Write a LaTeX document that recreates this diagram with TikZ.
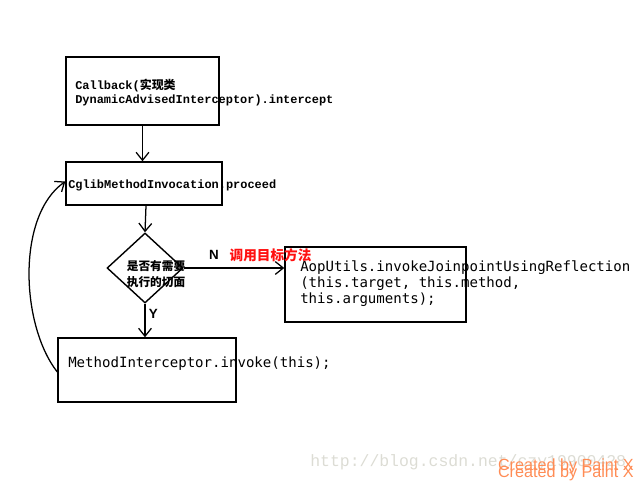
\documentclass[tikz,border=0pt]{standalone}
\usepackage{fontspec}
\setmonofont{DejaVu Sans Mono}
\newfontfamily\cjk{Noto Sans CJK SC}
\newfontfamily\heavymono{Liberation Mono}
\newfontfamily\wmsans{Liberation Sans}
\newfontfamily\wmmono{Liberation Mono}
\usetikzlibrary{arrows.meta,positioning,shapes.geometric}
\definecolor{wmgray}{HTML}{DCDCD4}
\definecolor{wmorange}{HTML}{FF8C55}
\definecolor{hintred}{HTML}{FF1010}

\begin{document}
\begin{tikzpicture}[
  box/.style={draw, line width=1pt, inner sep=0pt},
  code/.style={font=\ttfamily\fontsize{10}{11.4}\selectfont, align=left,
    anchor=west, inner sep=0pt},
  boldcode/.style={font=\heavymono\bfseries\fontsize{8.5}{10}\selectfont,
    align=left, anchor=west, inner sep=0pt},
  ask/.style={draw, diamond, line width=1pt, inner sep=0pt,
    minimum width=1.9cm, minimum height=1.75cm},
  cjktext/.style={font=\cjk\bfseries\fontsize{8.3}{11.4}\selectfont,
    align=center, inner sep=0pt},
  hint/.style={font=\cjk\bfseries\fontsize{9.7}{11}\selectfont, text=hintred,
    inner sep=0pt},
  branch/.style={font=\wmsans\bfseries\fontsize{9.5}{11}\selectfont, inner sep=0pt},
  flow/.style={-{Straight Barb[length=2mm,width=3.2mm]}, line width=0.9pt}
]
\useasboundingbox (0,0) rectangle (16,12);
% boxes
\node[box, minimum width=3.825cm, minimum height=1.7cm] (cb) at (3.5625,9.725) {};
\node[boldcode] (cbt) at (1.875,9.675)
  {Callback({\cjk\bfseries 实现类}\\DynamicAdvisedInterceptor).intercept};
\node[box, minimum width=3.9cm, minimum height=1.075cm] (cmi) at (3.6,7.4125) {};
\node[boldcode] (cmit) at (1.7,7.375) {CglibMethodInvocation.proceed};
\node[ask] (chk) at (3.625,5.3) {};
\node[cjktext] (chkt) at (3.9,5.15) {是否有需要\\执行的切面};
\node[box, minimum width=4.525cm, minimum height=1.875cm] (aop) at (9.3875,4.8875) {};
\node[code] (aopt) at (7.5,4.9)
  {AopUtils.invokeJoinpointUsingReflection\\(this.target, this.method,\\this.arguments);};
\node[box, minimum width=4.45cm, minimum height=1.6cm] (mi) at (3.675,2.75) {};
\node[code] (mit) at (1.7,2.9) {MethodInterceptor.invoke(this);};
% flows
\draw[flow] (cb.south) -- (cb.south |- cmi.north);
\draw[flow] ([xshift=0.05cm]cmi.south) -- (chk.north);
\draw[flow] (chk.east) -- node[branch, above=0.2cm, pos=0.3] (nlab) {N} (chk.east -| aop.west);
\node[hint, right=0.25cm of nlab.east] (tgt) {调用目标方法};
\draw[flow] (chk.south) -- node[branch, right=0.08cm, pos=0.3] (ylab) {Y} (chk.south |- mi.north);
\draw[flow] ([yshift=-0.05cm]mi.west) to[out=128, in=215, looseness=0.8]
  ([yshift=0.05cm]cmi.west);
% watermarks
\node[font=\wmmono\fontsize{11.7}{12}\selectfont, text=wmgray, anchor=west, inner sep=0pt]
  (wm) at (7.75,0.45) {http://blog.csdn.net/czy19900428};
\node[font=\wmsans\fontsize{11.5}{12}\selectfont, text=wmorange, anchor=east, inner sep=0pt]
  (px1) at (15.85,0.33) {Created by Paint X};
\node[font=\wmsans\fontsize{11.5}{12}\selectfont, text=wmorange, anchor=east, inner sep=0pt]
  (px2) at (15.85,0.17) {Created by Paint X};
\end{tikzpicture}
\end{document}
